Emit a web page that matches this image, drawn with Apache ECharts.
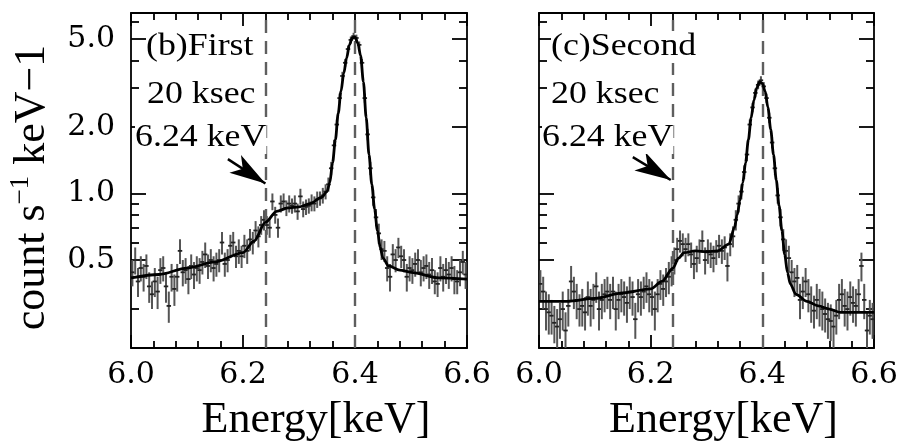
<!DOCTYPE html>
<html>
<head>
<meta charset="utf-8">
<script src="https://cdn.jsdelivr.net/npm/echarts@6/dist/echarts.min.js"></script>
<style>
html,body{margin:0;padding:0;background:#fff}
#chart{width:903px;height:448px}
</style>
</head>
<body>
<div id="chart"></div>
<script>
// Spectral bin centres (keV), shared by both observations
const energy = [
  6.0025,6.0075,6.0125,6.0175,6.0225,6.0275,6.0325,6.0375,6.0425,6.0475,
  6.0525,6.0575,6.0625,6.0675,6.0725,6.0775,6.0825,6.0875,6.0925,6.0975,
  6.1025,6.1075,6.1125,6.1175,6.1225,6.1275,6.1325,6.1375,6.1425,6.1475,
  6.1525,6.1575,6.1625,6.1675,6.1725,6.1775,6.1825,6.1875,6.1925,6.1975,
  6.2025,6.2075,6.2125,6.2175,6.2225,6.2275,6.2325,6.2375,6.2425,6.2475,
  6.2525,6.2575,6.2625,6.2675,6.2725,6.2775,6.2825,6.2875,6.2925,6.2975,
  6.3025,6.3075,6.3125,6.3175,6.3225,6.3275,6.3325,6.3375,6.3425,6.3475,
  6.3525,6.3575,6.3625,6.3675,6.3725,6.3775,6.3825,6.3875,6.3925,6.3975,
  6.4025,6.4075,6.4125,6.4175,6.4225,6.4275,6.4325,6.4375,6.4425,6.4475,
  6.4525,6.4575,6.4625,6.4675,6.4725,6.4775,6.4825,6.4875,6.4925,6.4975,
  6.5025,6.5075,6.5125,6.5175,6.5225,6.5275,6.5325,6.5375,6.5425,6.5475,
  6.5525,6.5575,6.5625,6.5675,6.5725,6.5775,6.5825,6.5875,6.5925,6.5975
];

// (b) First observation: count rate and 1-sigma error
const firstRate = [
  0.44,0.50,0.40,0.46,0.42,0.47,0.38,0.35,0.40,0.36,
  0.45,0.46,0.38,0.31,0.42,0.37,0.42,0.55,0.44,0.45,
  0.41,0.47,0.43,0.46,0.45,0.49,0.53,0.47,0.50,0.46,
  0.48,0.50,0.60,0.48,0.50,0.58,0.60,0.52,0.55,0.52,
  0.58,0.55,0.62,0.60,0.68,0.64,0.72,0.76,0.72,0.70,
  0.92,0.80,0.70,0.90,0.92,0.86,0.90,0.88,0.90,0.83,
  0.97,0.85,0.87,0.88,0.91,0.90,0.94,0.95,0.98,1.02,
  1.10,1.30,1.65,2.05,2.70,3.40,3.90,4.50,4.95,5.15,
  5.05,4.70,3.90,2.70,1.85,1.30,0.96,0.78,0.66,0.56,
  0.55,0.46,0.42,0.53,0.50,0.57,0.52,0.50,0.42,0.46,
  0.45,0.48,0.50,0.44,0.46,0.47,0.43,0.45,0.40,0.39,
  0.46,0.42,0.45,0.43,0.46,0.41,0.40,0.44,0.49,0.43
];
const firstErr = [
  0.06,0.07,0.06,0.06,0.06,0.06,0.06,0.05,0.06,0.06,
  0.06,0.06,0.06,0.05,0.06,0.06,0.06,0.07,0.06,0.06,
  0.06,0.06,0.06,0.06,0.06,0.06,0.07,0.06,0.06,0.06,
  0.06,0.06,0.07,0.06,0.06,0.07,0.07,0.06,0.07,0.06,
  0.07,0.07,0.07,0.07,0.07,0.07,0.07,0.08,0.07,0.07,
  0.08,0.07,0.07,0.08,0.08,0.07,0.08,0.07,0.08,0.07,
  0.08,0.07,0.07,0.07,0.08,0.07,0.08,0.07,0.08,0.08,
  0.08,0.09,0.10,0.11,0.13,0.15,0.16,0.17,0.18,0.18,
  0.18,0.17,0.16,0.13,0.11,0.09,0.08,0.07,0.07,0.06,
  0.06,0.06,0.06,0.06,0.06,0.06,0.06,0.06,0.06,0.06,
  0.06,0.06,0.06,0.06,0.06,0.06,0.06,0.06,0.05,0.05,
  0.06,0.06,0.06,0.06,0.06,0.06,0.05,0.06,0.06,0.06
];

// (c) Second observation: count rate and 1-sigma error
const secondRate = [
  0.39,0.36,0.30,0.29,0.28,0.26,0.25,0.27,0.30,0.24,
  0.31,0.40,0.36,0.33,0.30,0.31,0.29,0.34,0.31,0.33,
  0.38,0.30,0.33,0.35,0.36,0.33,0.36,0.30,0.33,0.35,
  0.34,0.32,0.36,0.34,0.27,0.35,0.34,0.36,0.38,0.35,
  0.34,0.30,0.35,0.39,0.37,0.40,0.42,0.45,0.50,0.56,
  0.61,0.59,0.56,0.59,0.53,0.48,0.51,0.55,0.61,0.50,
  0.55,0.53,0.51,0.545,0.58,0.55,0.57,0.47,0.59,0.64,
  0.76,0.90,1.02,1.25,1.50,2.05,2.45,2.85,3.10,3.25,
  3.05,2.70,2.20,1.70,1.30,0.98,0.78,0.62,0.55,0.51,
  0.44,0.40,0.415,0.33,0.36,0.40,0.35,0.32,0.295,0.33,
  0.31,0.30,0.285,0.27,0.265,0.25,0.28,0.33,0.35,0.31,
  0.30,0.34,0.32,0.31,0.35,0.47,0.33,0.24,0.28,0.27
];
const secondErr = [
  0.06,0.06,0.06,0.06,0.05,0.05,0.05,0.05,0.06,0.05,
  0.06,0.07,0.06,0.06,0.05,0.06,0.05,0.06,0.06,0.06,
  0.06,0.06,0.06,0.06,0.06,0.06,0.06,0.06,0.06,0.06,
  0.06,0.06,0.06,0.06,0.05,0.06,0.06,0.06,0.06,0.06,
  0.06,0.06,0.06,0.06,0.06,0.06,0.07,0.07,0.07,0.07,
  0.07,0.07,0.07,0.07,0.07,0.07,0.07,0.07,0.07,0.07,
  0.07,0.07,0.07,0.07,0.07,0.07,0.07,0.07,0.07,0.07,
  0.08,0.08,0.08,0.09,0.10,0.11,0.12,0.13,0.14,0.14,
  0.14,0.13,0.12,0.10,0.09,0.08,0.07,0.07,0.07,0.07,
  0.06,0.06,0.06,0.06,0.06,0.06,0.06,0.06,0.05,0.06,
  0.06,0.06,0.05,0.05,0.05,0.05,0.05,0.06,0.06,0.06,
  0.06,0.06,0.06,0.06,0.06,0.07,0.06,0.05,0.05,0.05
];

// Best-fit model curves
const firstModelE = [6.00,6.05,6.10,6.15,6.20,6.22,6.24,6.26,6.28,6.30,6.32,6.34,6.35,6.355,6.36,6.365,6.37,6.375,6.38,6.385,6.39,6.395,6.40,6.405,6.41,6.415,6.42,6.425,6.43,6.435,6.44,6.445,6.45,6.46,6.48,6.50,6.55,6.60];
const firstModel  = [0.415,0.43,0.46,0.49,0.54,0.61,0.74,0.83,0.86,0.87,0.90,0.96,1.02,1.12,1.38,1.75,2.3,2.9,3.5,4.1,4.7,5.05,5.1,4.8,4.2,3.2,2.2,1.5,1.1,0.85,0.68,0.57,0.51,0.47,0.45,0.44,0.415,0.41];
const secondModelE = [6.00,6.05,6.10,6.15,6.20,6.22,6.24,6.25,6.26,6.28,6.30,6.32,6.34,6.35,6.355,6.36,6.365,6.37,6.375,6.38,6.385,6.39,6.395,6.40,6.405,6.41,6.415,6.42,6.425,6.43,6.435,6.44,6.445,6.45,6.46,6.48,6.50,6.52,6.54,6.60];
const secondModel  = [0.325,0.325,0.335,0.355,0.37,0.40,0.46,0.51,0.54,0.55,0.545,0.55,0.59,0.70,0.80,0.93,1.12,1.38,1.75,2.2,2.65,3.0,3.2,3.15,2.9,2.45,1.95,1.5,1.15,0.88,0.68,0.53,0.44,0.39,0.35,0.325,0.31,0.30,0.29,0.29];

// Axis ticks and reference lines
const yLabelValues = [0.5, 1, 2, 5];
const yMinorValues = [0.3, 0.6, 0.7, 0.8, 0.9, 3, 4, 6];
const lineEnergies = [6.24, 6.4];
const firstArrow = [[6.173, 1.43], [6.24, 1.11]];
const secondArrow = [[6.168, 1.46], [6.236, 1.15]];
const panelLabels = [
  ['(b)First', '20 ksec', '6.24 keV'],
  ['(c)Second', '20 ksec', '6.24 keV']
];

const Y_MIN = 0.2, Y_MAX = 6.55;
const HALF_BIN = 0.004;
const INK = '#000';
const AXIS_W = 1.8;

const grids = [
  {left: 131, top: 13, width: 336, height: 335},
  {left: 539, top: 13, width: 335, height: 335}
];

function makeXAxes(gi) {
  const base = {
    gridIndex: gi, type: 'value', min: 6.0, max: 6.6, interval: 0.2,
    axisLine: {show: true, onZero: false, lineStyle: {color: INK, width: AXIS_W}},
    axisTick: {show: true, inside: true, length: 13, lineStyle: {color: INK, width: AXIS_W}},
    minorTick: {show: true, splitNumber: 5, length: 7, lineStyle: {color: INK, width: AXIS_W}},
    splitLine: {show: false}, minorSplitLine: {show: false}
  };
  return [
    Object.assign({}, base, {
      position: 'bottom',
      axisLabel: {show: true, margin: 12, showMinLabel: true, showMaxLabel: true,
        formatter: v => v.toFixed(1),
        fontFamily: 'DejaVu Serif', fontSize: 30, color: INK},
      name: 'Energy[keV]', nameLocation: 'middle', nameGap: 50,
      nameTextStyle: {fontFamily: 'Liberation Serif', fontSize: 44, color: INK, padding: [0, 0, 0, 34]}
    }),
    Object.assign({}, base, {position: 'top', axisLabel: {show: false}})
  ];
}

// y axes per panel: a log axis carrying the data (and labels), plus
// tick-only axes laid out in log10 space for major/minor ticks on both sides
function makeYAxes(gi, withLabels) {
  const dataAxis = {
    gridIndex: gi, type: 'log', logBase: 10, min: Y_MIN, max: Y_MAX, position: 'left',
    splitLine: {show: false}, axisTick: {show: false},
    axisLine: {show: true, onZero: false, lineStyle: {color: INK, width: AXIS_W}},
    axisLabel: {show: false}
  };
  if (withLabels) {
    dataAxis.axisLabel = {show: true, customValues: yLabelValues, margin: 16,
      formatter: v => Number(v).toFixed(1),
      fontFamily: 'DejaVu Serif', fontSize: 30, color: INK};
    dataAxis.name = '{a|count s}{s|\u22121}{a| keV\u22121}';
    dataAxis.nameLocation = 'middle';
    dataAxis.nameGap = 74;
    dataAxis.nameTextStyle = {
      color: INK, fontFamily: 'Liberation Serif', fontSize: 44, padding: [0, 14, 0, 0],
      rich: {
        a: {fontFamily: 'Liberation Serif', fontSize: 44, color: INK, lineHeight: 50},
        s: {fontFamily: 'Liberation Serif', fontSize: 27, color: INK, verticalAlign: 'top', lineHeight: 50}
      }
    };
  }
  const tickAxis = (pos, values, len, line) => ({
    gridIndex: gi, type: 'value', position: pos,
    min: Math.log10(Y_MIN), max: Math.log10(Y_MAX),
    splitLine: {show: false}, axisLabel: {show: false},
    axisLine: {show: line, onZero: false, lineStyle: {color: INK, width: AXIS_W}},
    axisTick: {show: true, inside: true, length: len, customValues: values.map(Math.log10),
      lineStyle: {color: INK, width: AXIS_W}}
  });
  return [
    dataAxis,
    tickAxis('left', yLabelValues, 15, false),
    tickAxis('left', yMinorValues, 8, false),
    tickAxis('right', yLabelValues, 15, true),
    tickAxis('right', yMinorValues, 8, false)
  ];
}

function errorBarSeries(xi, yi, rate, err) {
  return {
    type: 'custom', xAxisIndex: xi, yAxisIndex: yi, clip: true, z: 3,
    data: energy.map((e, i) => [e, rate[i], err[i]]),
    encode: {x: 0, y: 1},
    renderItem: function (params, api) {
      const x = api.value(0), y = api.value(1), s = api.value(2);
      const hi = api.coord([x, y + s]);
      const lo = api.coord([x, y - s]);
      const l = api.coord([x - HALF_BIN, y]);
      const r = api.coord([x + HALF_BIN, y]);
      return {
        type: 'group',
        children: [
          {type: 'line', shape: {x1: hi[0], y1: hi[1], x2: lo[0], y2: lo[1]},
            style: {stroke: '#555', lineWidth: 2}},
          {type: 'line', shape: {x1: l[0], y1: l[1], x2: r[0], y2: r[1]},
            style: {stroke: '#222', lineWidth: 1.8}}
        ]
      };
    }
  };
}

function modelSeries(xi, yi, es, vs, arrow) {
  const dashed = {type: [13, 8], color: '#5e5e5e', width: 2.4};
  return {
    type: 'line', xAxisIndex: xi, yAxisIndex: yi, z: 5,
    data: es.map((e, i) => [e, vs[i]]),
    showSymbol: false, smooth: 0.3, smoothMonotone: 'x',
    lineStyle: {color: INK, width: 2.8},
    markLine: {
      silent: true, symbol: ['none', 'none'], animation: false,
      label: {show: false},
      data: lineEnergies.map(e => ({xAxis: e, lineStyle: dashed})).concat([[
        {coord: arrow[0], symbol: 'none', lineStyle: {type: 'solid', color: INK, width: 2.4}},
        {coord: arrow[1], symbol: 'arrow', symbolSize: [16, 36]}
      ]])
    }
  };
}

const textX = [[146, 147, 135], [551, 551, 542]];
const textY = [47, 95, 138];
const graphics = [];
panelLabels.forEach((lines, p) => {
  lines.forEach((t, k) => {
    graphics.push({
      type: 'text', x: textX[p][k], y: textY[k], scaleX: 1.12, z: 10,
      style: {text: t, font: '32px "Liberation Serif"', fill: INK,
        verticalAlign: 'middle', backgroundColor: '#fff'}
    });
  });
});

const option = {
  animation: false,
  backgroundColor: '#fff',
  grid: grids,
  xAxis: makeXAxes(0).concat(makeXAxes(1)),
  yAxis: makeYAxes(0, true).concat(makeYAxes(1, false)),
  series: [
    errorBarSeries(0, 0, firstRate, firstErr),
    modelSeries(0, 0, firstModelE, firstModel, firstArrow),
    errorBarSeries(2, 5, secondRate, secondErr),
    modelSeries(2, 5, secondModelE, secondModel, secondArrow)
  ],
  graphic: graphics
};

const chart = echarts.init(document.getElementById('chart'), null, {renderer: 'canvas'});
chart.setOption(option);
</script>
</body>
</html>
